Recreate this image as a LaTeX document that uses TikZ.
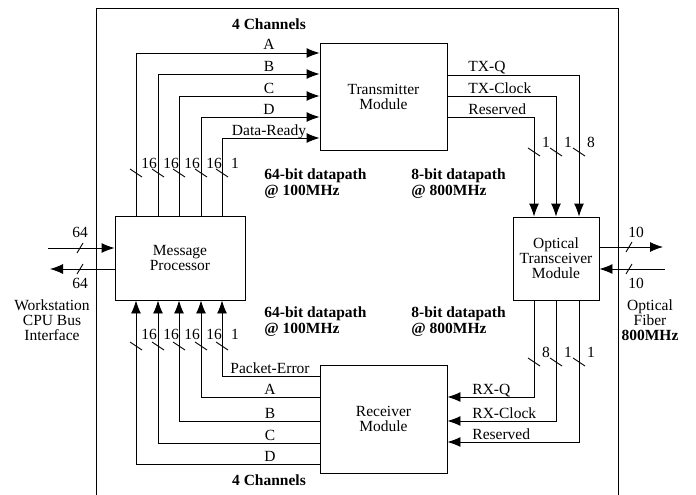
\documentclass[tikz,border=0pt]{standalone}
\usepackage{fontspec}
\setmainfont{Liberation Serif}
\usetikzlibrary{arrows.meta}

\begin{document}
\begin{tikzpicture}[x=1pt,y=-1pt,>={Latex[length=13pt,width=10pt]},line width=0.9pt,
  every node/.style={font=\fontsize{15.5}{15}\selectfont,inner sep=1pt},
  module/.style={draw,align=center},
  rate/.style={anchor=west,align=left,font=\fontsize{15.5}{16}\selectfont\bfseries}]
  \useasboundingbox (0,0) rectangle (696,495);
  \draw (96,495)--(96,8)--(618,8)--(618,495);
  % modules
  \node[module,minimum width=130pt,minimum height=84pt] (mp) at (180,258) {Message\\Processor};
  \node[module,minimum width=127pt,minimum height=107pt] (tx) at (383.5,96.5) {Transmitter\\Module};
  \node[module,minimum width=127pt,minimum height=108pt] (rx) at (383.5,419) {Receiver\\Module};
  \node[module,minimum width=86pt,minimum height=83pt] (otm) at (556,258.5) {Optical\\Transceiver\\Module};
  % message processor -> transmitter
  \foreach \x/\y/\t/\n [count=\i] in {136/53/A/16,158/74/B/16,179/96/C/16,201/117/D/16,222/138/Data-Ready/1}{
    \draw[->] (mp.north -| \x,0) |- (tx.west |- 0,\y);
    \node[anchor=base] (tin\i) at (269,\y-3) {\t};
    \draw (\x-6,169)--(\x+6,177);
    \node (tw\i) at (\x+13,163) {\n};
  }
  % receiver -> message processor
  \foreach \x/\y/\t/\n [count=\i] in {136/464/D/16,158/443/C/16,179/421/B/16,201/397/A/16,222/376/Packet-Error/1}{
    \draw[->] (rx.west |- 0,\y) -| (mp.south -| \x,0);
    \node[anchor=base] (rin\i) at (270,\y-3) {\t};
    \draw (\x-6,342)--(\x+6,350);
    \node (rw\i) at (\x+13,334) {\n};
  }
  % transmitter -> optical
  \foreach \x/\y/\t/\n [count=\i] in {579/75/TX-Q/8,556/96/TX-Clock/1,534/117/Reserved/1}{
    \draw[->] (tx.east |- 0,\y) -| (otm.north -| \x,0);
    \node[anchor=base west] (txl\i) at (467,\y-3) {\t};
    \draw (\x-6,148)--(\x+6,156);
    \node (txw\i) at (\x+12,142) {\n};
  }
  % optical -> receiver
  \foreach \x/\y/\t/\n [count=\i] in {534/397/RX-Q/8,556/421/RX-Clock/1,579/442/Reserved/1}{
    \draw[->] (otm.south -| \x,0) |- (rx.east |- 0,\y);
    \node[anchor=base west] (rxl\i) at (471,\y-3) {\t};
    \draw (\x-6,358)--(\x+6,366);
    \node (rxw\i) at (\x+12,352) {\n};
  }
  % workstation bus
  \coordinate (busin) at (48,248); \coordinate (busout) at (50,269);
  \draw[->] (busin) -- (mp.west |- busin);
  \draw[->] (mp.west |- busout) -- (busout);
  \draw (77,253)--(83,243); \draw (77,274)--(83,264);
  \node (win) at (80,232) {64}; \node (wout) at (80,283) {64};
  \node[align=center] (bus) at (52,320) {Workstation\\CPU Bus\\Interface};
  % optical fiber
  \coordinate (fibout) at (663,247); \coordinate (fibin) at (665,269);
  \draw[->] (otm.east |- fibout) -- (fibout);
  \draw[->] (fibin) -- (otm.east |- fibin);
  \draw (626,252)--(632,242); \draw (626,274)--(632,264);
  \node (fwout) at (636,232) {10}; \node (fwin) at (636,283) {10};
  \node[align=center] (fiber) at (650,320) {Optical\\Fiber\\\textbf{800MHz}};
  % rates
  \node[rate] (dp1) at (263,184) {64-bit datapath\\@ 100MHz};
  \node[rate] (dp2) at (410,184) {8-bit datapath\\@ 800MHz};
  \node[rate] (dp3) at (263,322) {64-bit datapath\\@ 100MHz};
  \node[rate] (dp4) at (410,322) {8-bit datapath\\@ 800MHz};
  \node[font=\fontsize{15.5}{15}\selectfont\bfseries] (ch1) at (269,24) {4 Channels};
  \node[font=\fontsize{15.5}{15}\selectfont\bfseries] (ch2) at (269,480) {4 Channels};
\end{tikzpicture}
\end{document}
